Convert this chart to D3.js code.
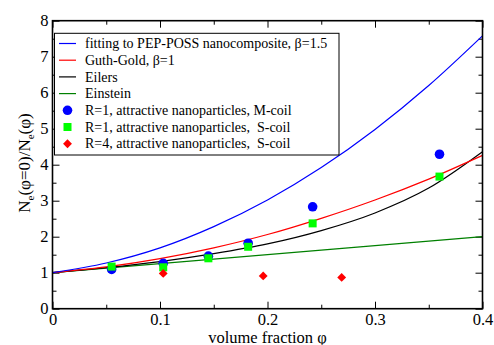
<!DOCTYPE html>
<html>
<head>
<meta charset="utf-8">
<script src="https://cdn.jsdelivr.net/npm/d3@7"></script>
<style>
  body { margin: 0; background: #fff; }
  svg text { font-family: "Liberation Serif", "Times New Roman", "DejaVu Serif", serif; }
</style>
</head>
<body>
<svg id="chart" width="494" height="345"></svg>
<script>
// curves at phi = 0, 0.05, ... 0.4
let phiGrid = [0, 0.05, 0.1, 0.15, 0.2, 0.25, 0.3, 0.35, 0.4];
let fitPEP = [1, 1.27, 1.69, 2.28, 3.02, 3.92, 4.98, 6.2, 7.58];
let guthGold = [1, 1.16, 1.39, 1.69, 2.06, 2.51, 3.02, 3.6, 4.26];
let eilers = [1, 1.14, 1.31, 1.53, 1.8, 2.17, 2.66, 3.35, 4.36];
let einstein = [1, 1.125, 1.25, 1.375, 1.5, 1.625, 1.75, 1.875, 2];

// simulation points
let mcoilX = [0.055, 0.103, 0.145, 0.182, 0.242, 0.36];
let mcoilY = [1.09, 1.26, 1.46, 1.82, 2.83, 4.29];
let scoilX = [0.055, 0.103, 0.145, 0.182, 0.242, 0.36];
let scoilY = [1.17, 1.15, 1.4, 1.72, 2.37, 3.67];
let r4X = [0.103, 0.196, 0.269];
let r4Y = [0.98, 0.91, 0.87];

let xTicks = [0, 0.1, 0.2, 0.3, 0.4];
let yTicks = [0, 1, 2, 3, 4, 5, 6, 7, 8];

let legendLabels = [
  "fitting to PEP-POSS nanocomposite, \u03b2=1.5",
  "Guth-Gold, \u03b2=1",
  "Eilers",
  "Einstein",
  "R=1, attractive nanoparticles, M-coil",
  "R=1, attractive nanoparticles,  S-coil",
  "R=4, attractive nanoparticles,  S-coil"
];

let serif = "Liberation Serif, Times New Roman, DejaVu Serif, serif";
let svg = d3.select("#chart").attr("font-family", serif);
let pLeft = 52.5, pRight = 482.5, pTop = 20.7, pBottom = 308.7;

let x = d3.scaleLinear().domain([0, 0.4]).range([pLeft, pRight]);
let y = d3.scaleLinear().domain([0, 8]).range([pBottom, pTop]);

let minorX = d3.range(0.05, 0.4, 0.1);
let minorY = d3.range(0.5, 8, 1);

function tickAxis(g, axis) {
  g.call(axis);
  g.attr("font-family", serif);
  g.select(".domain").remove();
  g.selectAll(".tick line").attr("stroke", "#000").attr("stroke-width", 1);
  g.selectAll(".tick text").attr("font-size", 16.5).attr("fill", "#000");
}

// bottom
svg.append("g").attr("transform", `translate(0,${pBottom})`)
  .call(g => tickAxis(g, d3.axisBottom(x).tickValues(xTicks).tickSize(-7).tickPadding(5)
    .tickFormat(d => d === 0 ? "0" : d3.format(".1f")(d))));
svg.append("g").attr("transform", `translate(0,${pBottom})`)
  .call(g => tickAxis(g, d3.axisBottom(x).tickValues(minorX).tickSize(-4).tickFormat("")));
// top
svg.append("g").attr("transform", `translate(0,${pTop})`)
  .call(g => tickAxis(g, d3.axisTop(x).tickValues(xTicks).tickSize(-7).tickFormat("")));
svg.append("g").attr("transform", `translate(0,${pTop})`)
  .call(g => tickAxis(g, d3.axisTop(x).tickValues(minorX).tickSize(-4).tickFormat("")));
// left
svg.append("g").attr("transform", `translate(${pLeft},0)`)
  .call(g => tickAxis(g, d3.axisLeft(y).tickValues(yTicks).tickSize(-7).tickPadding(4).tickFormat(d3.format("d"))));
svg.append("g").attr("transform", `translate(${pLeft},0)`)
  .call(g => tickAxis(g, d3.axisLeft(y).tickValues(minorY).tickSize(-4).tickFormat("")));
// right
svg.append("g").attr("transform", `translate(${pRight},0)`)
  .call(g => tickAxis(g, d3.axisRight(y).tickValues(yTicks).tickSize(-7).tickFormat("")));
svg.append("g").attr("transform", `translate(${pRight},0)`)
  .call(g => tickAxis(g, d3.axisRight(y).tickValues(minorY).tickSize(-4).tickFormat("")));

// curves
svg.append("clipPath").attr("id", "plotclip")
  .append("rect").attr("x", pLeft).attr("y", pTop).attr("width", pRight - pLeft).attr("height", pBottom - pTop);

let line = d3.line().x(d => x(d[0])).y(d => y(d[1])).curve(d3.curveMonotoneX);
let curves = [
  {vals: einstein, color: "#008000"},
  {vals: eilers, color: "#000000"},
  {vals: guthGold, color: "#ff0000"},
  {vals: fitPEP, color: "#0000ff"}
];
let plot = svg.append("g").attr("clip-path", "url(#plotclip)");
curves.forEach(c => {
  plot.append("path")
    .datum(phiGrid.map((p, i) => [p, c.vals[i]]))
    .attr("d", line)
    .attr("fill", "none")
    .attr("stroke", c.color)
    .attr("stroke-width", 1.2);
});

// markers
plot.selectAll(".mcoil").data(mcoilX.map((p, i) => [p, mcoilY[i]]))
  .enter().append("circle").attr("class", "mcoil")
  .attr("cx", d => x(d[0])).attr("cy", d => y(d[1])).attr("r", 4.8)
  .attr("fill", "#0000ff");
plot.selectAll(".scoil").data(scoilX.map((p, i) => [p, scoilY[i]]))
  .enter().append("rect").attr("class", "scoil")
  .attr("x", d => x(d[0]) - 4).attr("y", d => y(d[1]) - 4).attr("width", 8).attr("height", 8)
  .attr("fill", "#00ff00");
let diamond = d3.symbol().type(d3.symbolDiamond2).size(50);
plot.selectAll(".r4").data(r4X.map((p, i) => [p, r4Y[i]]))
  .enter().append("path").attr("class", "r4")
  .attr("transform", d => `translate(${x(d[0])},${y(d[1])})`)
  .attr("d", diamond)
  .attr("fill", "#ff0000");

// frame
svg.append("rect").attr("x", pLeft).attr("y", pTop).attr("width", pRight - pLeft).attr("height", pBottom - pTop)
  .attr("fill", "none").attr("stroke", "#000").attr("stroke-width", 1.6);

// legend
let lg = svg.append("g");
lg.append("rect").attr("x", 54.5).attr("y", 33.3).attr("width", 284.5).attr("height", 121.7)
  .attr("fill", "#fff").attr("stroke", "#000").attr("stroke-width", 1);
let rowY = i => 43.5 + i * 16.7;
let legendColors = ["#0000ff", "#ff0000", "#000000", "#008000", "#0000ff", "#00ff00", "#ff0000"];
legendLabels.forEach((lab, i) => {
  let cy = rowY(i);
  if (i < 4) {
    lg.append("line").attr("x1", 59).attr("x2", 76).attr("y1", cy).attr("y2", cy)
      .attr("stroke", legendColors[i]).attr("stroke-width", 1.2);
  } else if (i === 4) {
    lg.append("circle").attr("cx", 67.5).attr("cy", cy).attr("r", 4.8).attr("fill", legendColors[i]);
  } else if (i === 5) {
    lg.append("rect").attr("x", 63.5).attr("y", cy - 4).attr("width", 8).attr("height", 8).attr("fill", legendColors[i]);
  } else {
    lg.append("path").attr("transform", `translate(67.5,${cy})`).attr("d", diamond).attr("fill", legendColors[i]);
  }
  lg.append("text").attr("x", 85).attr("y", cy).attr("dy", "0.33em")
    .attr("font-size", 14).attr("fill", "#000").style("white-space", "pre").text(lab);
});

// axis titles
svg.append("text").attr("x", (pLeft + pRight) / 2).attr("y", 342.5)
  .attr("text-anchor", "middle").attr("font-size", 16.5).text("volume fraction \u03c6");

let yl = svg.append("text").attr("transform", `translate(30,163) rotate(-90)`)
  .attr("text-anchor", "middle").attr("font-size", 17);
yl.append("tspan").text("N");
yl.append("tspan").attr("font-size", 11).attr("dy", 4).text("e");
yl.append("tspan").attr("dy", -4).text("(\u03c6=0)/N");
yl.append("tspan").attr("font-size", 11).attr("dy", 4).text("e");
yl.append("tspan").attr("dy", -4).text("(\u03c6)");
</script>
</body>
</html>
